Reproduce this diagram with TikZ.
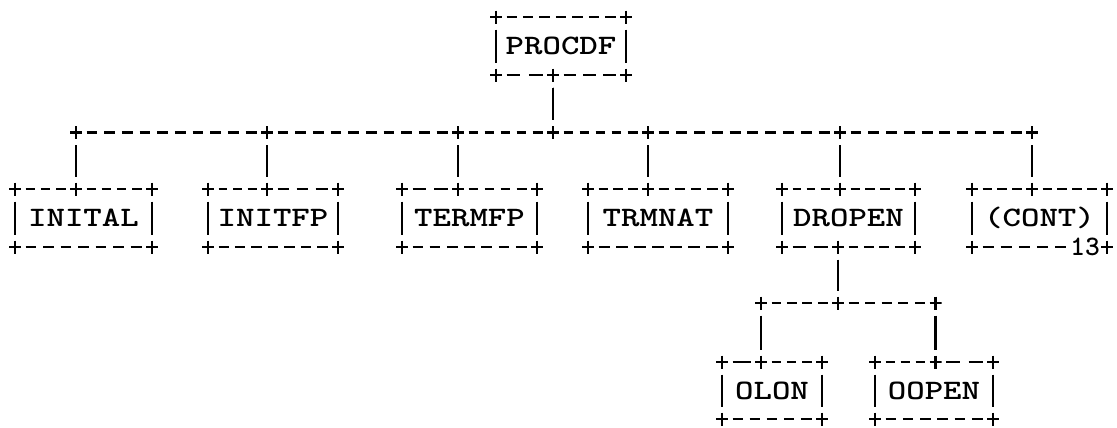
\documentclass[tikz,border=0pt]{standalone}
\usepackage{graphicx}

\begin{document}
\begin{tikzpicture}[line width=1.5pt,
  plus/.style={inner sep=0pt, outer sep=0.09cm, minimum width=0.24cm, minimum height=0.26cm,
    path picture={\draw[line width=1.5pt]
      (path picture bounding box.west) -- (path picture bounding box.east)
      (path picture bounding box.north) -- (path picture bounding box.south);}},
  bar/.style={shorten <=0.03cm, shorten >=0.03cm},
  lbl/.style={inner sep=0pt, text height=0.34cm, text depth=0pt,
    font=\ttfamily\bfseries\fontsize{16}{16}\selectfont}]
  \useasboundingbox (0,0) rectangle (22.34,-8.54);

  %--- common rows
  \def\ra{-0.34}\def\rb{-1.50}
  \def\rd{-2.65}
  \def\rt{-3.78}\def\rbt{-4.94}
  \def\rh{-6.06}
  \def\rs{-7.24}\def\rsb{-8.38}

  % helper for a typed rule "----" between two nodes (dashes fit the gap)
  \newcommand{\typerule}[2]{%
    \path (#1.east); \pgfgetlastxy{\dxa}{\dya}%
    \path (#2.west); \pgfgetlastxy{\dxb}{\dyb}%
    \pgfmathsetmacro{\dlen}{\dxb-\dxa}%
    \pgfmathtruncatemacro{\dn}{max(1,round((\dlen+3.7)/9.8))}%
    \pgfmathsetmacro{\don}{\dlen/(\dn+0.62*(\dn-1))}%
    \pgfmathsetmacro{\doff}{0.62*\don}%
    \draw[dash pattern=on \don pt off \doff pt] (#1.east) -- (#2.west);
  }

  % helper for one printed box: name, left, junction, right, top, bottom, text
  \newcommand{\prbox}[7]{%
    \node[plus] (#1-tl) at (#2,#5) {};
    \node[plus] (#1-tj) at (#3,#5) {};
    \node[plus] (#1-tr) at (#4,#5) {};
    \node[plus] (#1-bl) at (#2,#6) {};
    \node[plus] (#1-br) at (#4,#6) {};
    \node[lbl] (#1) at ({(#2+#4)/2},{(#5+#6)/2}) {\scalebox{1.25}[1]{#7}};
    \typerule{#1-tl}{#1-tj}
    \typerule{#1-tj}{#1-tr}
    \draw[bar] (#1-tl) -- (#1-bl);
    \draw[bar] (#1-tr) -- (#1-br);
  }

  %==================== top box ====================
  \node[plus] (procdf-tl) at (9.92,\ra) {};
  \node[plus] (procdf-tr) at (12.52,\ra) {};
  \node[plus] (procdf-bl) at (9.92,\rb) {};
  \node[plus] (procdf-bj) at (11.06,\rb) {};
  \node[plus] (procdf-br) at (12.52,\rb) {};
  \node[lbl] (procdf) at (11.22,-0.92) {\scalebox{1.25}[1]{PROCDF}};
  \typerule{procdf-tl}{procdf-tr}
  \typerule{procdf-bl}{procdf-bj}
  \typerule{procdf-bj}{procdf-br}
  \draw[bar] (procdf-tl) -- (procdf-bl);
  \draw[bar] (procdf-tr) -- (procdf-br);

  %==================== first level ====================
  \foreach \x [count=\i] in {1.52,5.34,9.16,11.06,12.96,16.80,20.64}
    \node[plus] (d\i) at (\x,\rd) {};
  \foreach \a/\b in {1/2,2/3,3/4,4/5,5/6,6/7}
    \typerule{d\a}{d\b}
  \draw[bar] (procdf-bj) -- (d4);

  \prbox{inital}{0.30}{1.52}{3.04}{\rt}{\rbt}{INITAL}
  \prbox{initfp}{4.16}{5.34}{6.76}{\rt}{\rbt}{INITFP}
  \prbox{termfp}{8.04}{9.16}{10.74}{\rt}{\rbt}{TERMFP}
  \prbox{trmnat}{11.76}{12.96}{14.56}{\rt}{\rbt}{TRMNAT}
  \prbox{dropen}{15.64}{16.80}{18.30}{\rt}{\rbt}{DROPEN}
  \prbox{cont}{19.44}{20.64}{22.14}{\rt}{\rbt}{(CONT)}

  \foreach \n in {inital,initfp,termfp,trmnat}
    \typerule{\n-bl}{\n-br}
  \foreach \n/\i in {inital/1,initfp/2,termfp/3,trmnat/5,dropen/6,cont/7}
    \draw[bar] (d\i) -- (\n-tj);

  % page mark in the last box
  \node[lbl, outer sep=0.08cm] (cont-no) at (21.70,\rbt) {13};
  \typerule{cont-bl}{cont-no}

  %==================== second level ====================
  \node[plus] (dropen-bj) at (16.76,\rbt) {};
  \typerule{dropen-bl}{dropen-bj}
  \typerule{dropen-bj}{dropen-br}

  \node[plus] (h1) at (15.22,\rh) {};
  \node[plus] (h2) at (16.76,\rh) {};
  \node[plus] (h3) at (18.71,\rh) {};
  \typerule{h1}{h2}
  \typerule{h2}{h3}
  \draw[bar] (dropen-bj) -- (h2);

  \prbox{olon}{14.44}{15.22}{16.44}{\rs}{\rsb}{OLON}
  \prbox{oopen}{17.50}{18.71}{19.86}{\rs}{\rsb}{OOPEN}
  \typerule{olon-bl}{olon-br}
  \typerule{oopen-bl}{oopen-br}
  \draw[bar] (h1) -- (olon-tj);
  \draw[bar] (h3) -- (oopen-tj);

\end{tikzpicture}
\end{document}
